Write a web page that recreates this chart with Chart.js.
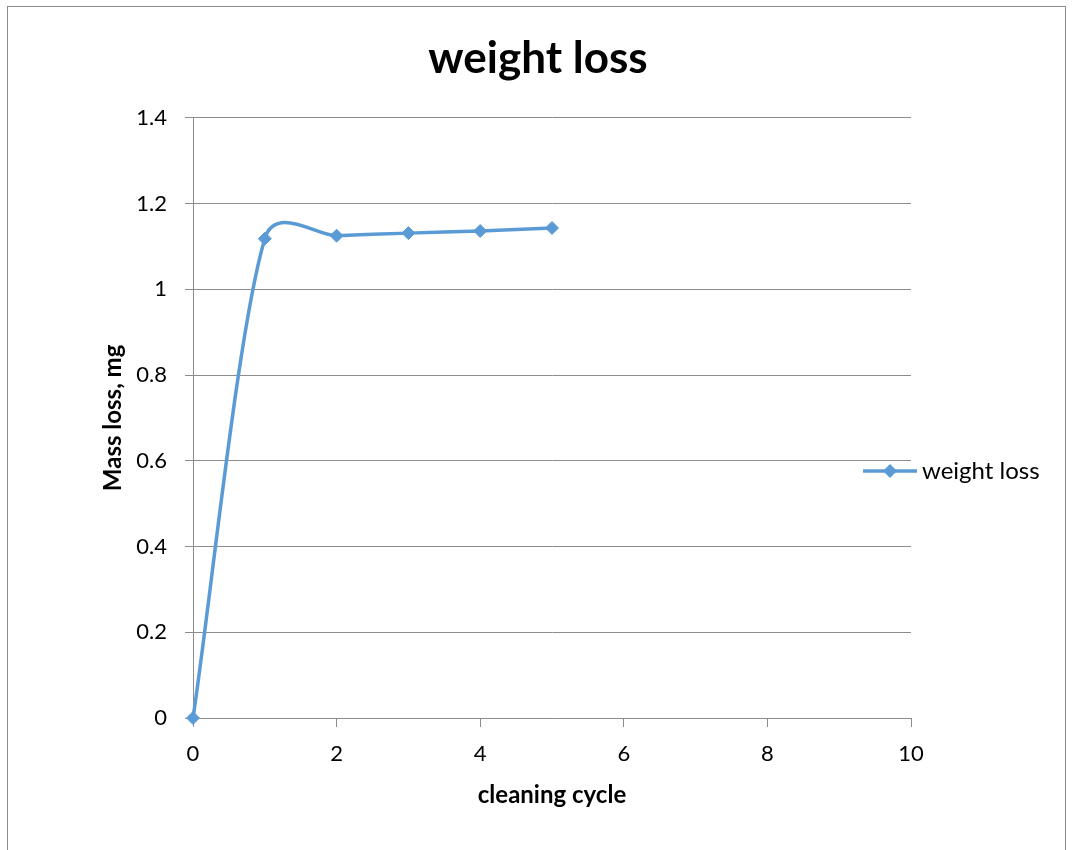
<!DOCTYPE html>
<html>
<head>
<meta charset="utf-8">
<title>weight loss</title>
<script src="https://cdn.jsdelivr.net/npm/chart.js@4"></script>
<style>
    body { margin: 0; background: #fff; overflow: hidden; }
    #frame {
        position: absolute; left: 7px; top: 6px;
        width: 1057px; height: 900px;
        border: 1px solid #8c8c8c;
    }
    #wrap { position: absolute; left: 0; top: 0; width: 1072px; height: 850px; }
</style>
</head>
<body>
<div id="frame"></div>
<div id="wrap"><canvas id="chart" width="1072" height="850"></canvas></div>
<script>
const cycles = [0, 1, 2, 3, 4, 5];
const massLoss = [0, 1.118, 1.125, 1.131, 1.136, 1.143];
const xTicks = [0, 2, 4, 6, 8, 10];
const yTicks = [0, 0.2, 0.4, 0.6, 0.8, 1, 1.2, 1.4];
const seriesName = "weight loss";

const BLUE = "#5B9BD5";
const GRID = "#8c8c8c";
const FONT = "Lato, 'Open Sans', sans-serif";
const SMOOTH = 0.26;

// title should be centred on the whole frame, not only between the paddings
const titleCenter = {
    id: "titleCenter",
    afterLayout(chart) {
        chart.titleBlock.left = 8;
        chart.titleBlock.right = 1068;
    }
};

// Excel-like smoothing: weight the control arms by sqrt of the segment lengths
// (Chart.js weights them linearly, which bends the long first segment too much)
const excelSmooth = {
    id: "excelSmooth",
    beforeDatasetsDraw(chart) {
        const meta = chart.getDatasetMeta(0);
        meta.dataset.updateControlPoints(chart.chartArea, "x");
        const pts = meta.data;
        pts.forEach((p, i) => {
            const prev = pts[i - 1] || p;
            const next = pts[i + 1] || p;
            const s01 = Math.sqrt(Math.hypot(p.x - prev.x, p.y - prev.y));
            const s12 = Math.sqrt(Math.hypot(next.x - p.x, next.y - p.y));
            const sum = s01 + s12 || 1;
            const fa = s01 / sum, fb = s12 / sum;
            const dx = next.x - prev.x, dy = next.y - prev.y;
            p.cp1x = p.x - SMOOTH * fa * dx;
            p.cp1y = p.y - SMOOTH * fa * dy;
            p.cp2x = p.x + SMOOTH * fb * dx;
            p.cp2y = p.y + SMOOTH * fb * dy;
        });
    }
};

// legend drawn by hand so it sits where Excel puts it
const legendPlugin = {
    id: "sideLegend",
    afterDraw(chart) {
        const ctx = chart.ctx;
        const y = 471;
        ctx.save();
        ctx.strokeStyle = BLUE;
        ctx.lineWidth = 3.5;
        ctx.beginPath();
        ctx.moveTo(863, y);
        ctx.lineTo(917, y);
        ctx.stroke();
        ctx.fillStyle = BLUE;
        ctx.beginPath();
        ctx.moveTo(890, y - 7);
        ctx.lineTo(897, y);
        ctx.lineTo(890, y + 7);
        ctx.lineTo(883, y);
        ctx.closePath();
        ctx.fill();
        ctx.fillStyle = "#000";
        ctx.font = "24px " + FONT;
        ctx.textBaseline = "middle";
        ctx.fillText(seriesName, 922, y);
        ctx.restore();
    }
};

new Chart(document.getElementById("chart"), {
    type: "line",
    data: {
        datasets: [{
            label: seriesName,
            data: cycles.map((c, i) => ({ x: c, y: massLoss[i] })),
            borderColor: BLUE,
            backgroundColor: BLUE,
            borderWidth: 3.5,
            tension: SMOOTH,
            pointStyle: "rectRot",
            pointRadius: 6.5,
            pointBorderWidth: 1,
            pointBackgroundColor: BLUE,
            pointBorderColor: BLUE,
            clip: false
        }]
    },
    options: {
        responsive: false,
        animation: false,
        layout: { padding: { top: 18, left: 97, right: 161, bottom: 39 } },
        plugins: {
            legend: { display: false },
            tooltip: { enabled: false },
            title: {
                display: true,
                text: "weight loss",
                color: "#000",
                font: { family: FONT, size: 44, weight: "bold" },
                padding: { top: 14, bottom: 33 }
            }
        },
        scales: {
            x: {
                type: "linear",
                min: 0,
                max: 10,
                afterBuildTicks: s => { s.ticks = xTicks.map(v => ({ value: v })); },
                afterFit: s => { s.height = 93; },
                grid: { drawOnChartArea: false, drawTicks: true, tickLength: 9, tickColor: GRID },
                border: { color: GRID, width: 1 },
                ticks: { color: "#000", padding: 14, font: { family: FONT, size: 22 } },
                title: {
                    display: true,
                    text: "cleaning cycle",
                    color: "#000",
                    font: { family: FONT, size: 24, weight: "bold" },
                    padding: { top: 0, bottom: 1 }
                }
            },
            y: {
                min: 0,
                max: 1.4,
                afterBuildTicks: s => { s.ticks = yTicks.map(v => ({ value: v })); },
                afterFit: s => { s.width = 96; },
                grid: { color: GRID, tickLength: 8, tickColor: GRID },
                border: { color: GRID, width: 1 },
                ticks: {
                    color: "#000",
                    padding: 18,
                    font: { family: FONT, size: 22 },
                    callback: v => String(+v.toFixed(1))
                },
                title: {
                    display: true,
                    text: "Mass loss, mg",
                    color: "#000",
                    font: { family: FONT, size: 24, weight: "bold" },
                    padding: { top: 2, bottom: 0 }
                }
            }
        }
    },
    plugins: [titleCenter, excelSmooth, legendPlugin]
});
</script>
</body>
</html>
